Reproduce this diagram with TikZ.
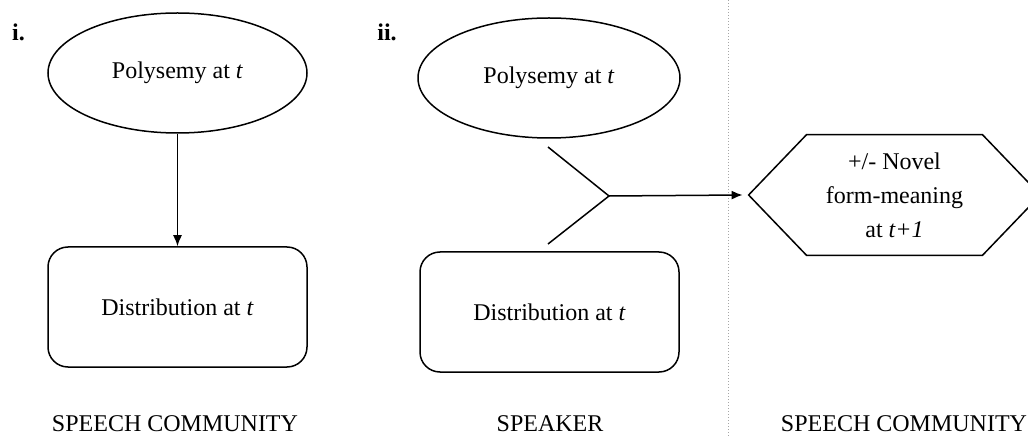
\documentclass[tikz,border=0pt]{standalone}
\usepackage{fontspec}
\setmainfont{Liberation Serif}
\usetikzlibrary{shapes.geometric,arrows.meta,calc}

\begin{document}
\begin{tikzpicture}[x=0.5pt,y=-0.5pt,
  every node/.style={font=\fontsize{12}{17}\selectfont},
  oval/.style={draw,ellipse,line width=0.75pt,minimum width=129.5pt,minimum height=60pt,inner sep=0pt},
  box/.style={draw,rounded corners=10pt,line width=0.75pt,minimum width=129.5pt,minimum height=60pt},
  arr/.style={-{Latex[length=5.5pt,width=4.5pt]},line width=0.75pt}]
\useasboundingbox (0,0) rectangle (1028,438);

% panel i
\node[font=\fontsize{12}{14}\selectfont\bfseries] (lab1) at (18.5,32) {i.};
\node[oval] (poly1) at (177.5,73) {Polysemy at \textit{t}};
\node[box] (dist1) at (177.5,307) {Distribution at \textit{t}};
\draw[arr] (poly1) -- (dist1);
\node (comm1) at (175,424) {SPEECH COMMUNITY};

% panel ii
\node[font=\fontsize{12}{14}\selectfont\bfseries] (lab2) at (387,32) {ii.};
\node[oval,minimum width=131pt] (poly2) at (549,78) {Polysemy at \textit{t}};
\node[box] (dist2) at (549.5,312) {Distribution at \textit{t}};
\node (spk) at (550,424) {SPEAKER};

\draw[gray!70,densely dotted,line width=0.5pt] (728,0) -- (728,438);

\node[align=center,minimum width=145.5pt,minimum height=60pt,inner sep=0pt] (novel) at (894.5,195)
  {+/- Novel\\form-meaning\\at \textit{t+1}};
\draw[line width=0.75pt] (novel.west) -- ($(novel.north west)+(58,0)$) -- ($(novel.north east)+(-58,0)$)
  -- (novel.east) -- ($(novel.south east)+(-58,0)$) -- ($(novel.south west)+(58,0)$) -- cycle;
\node (comm2) at (904,424) {SPEECH COMMUNITY};

% fork
\coordinate (fork) at (609,196);
\coordinate (upper) at (548,147);
\coordinate (lower) at (548,244);
\draw[line width=0.75pt] (upper) -- (fork) -- (lower);
\draw[arr] (fork) -- ([xshift=-3pt]novel.west);

\end{tikzpicture}
\end{document}
